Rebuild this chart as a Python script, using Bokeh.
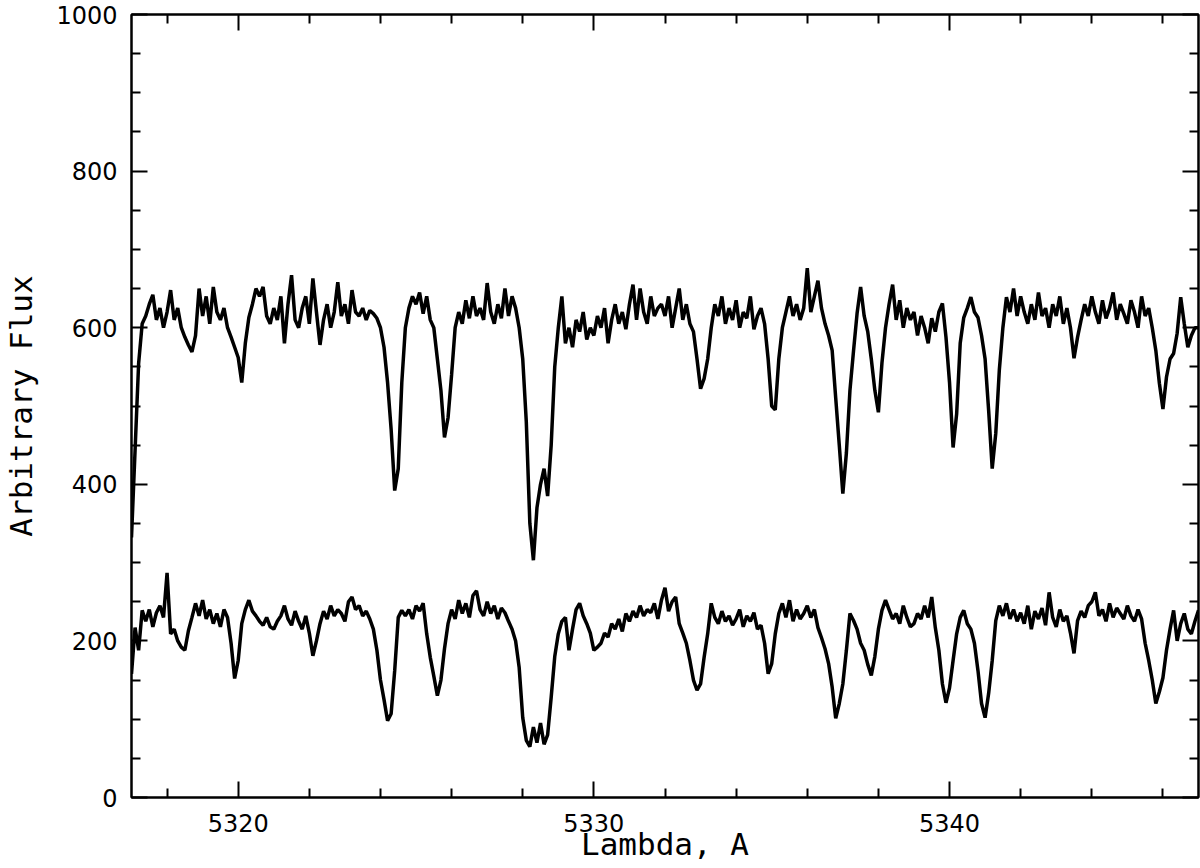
from bokeh.plotting import figure
from bokeh.models import LinearAxis, FixedTicker, CustomJSTickFormatter, Range1d
from bokeh.embed import file_html
from bokeh.resources import INLINE

# ---- data ----
LAM_START = 5317.0
LAM_STEP = 0.1

upper_flux = [
    332, 443, 554, 605, 615, 630, 642, 610, 625, 600,
    620, 648, 610, 625, 600, 588, 578, 569, 590, 650,
    615, 640, 605, 652, 620, 610, 625, 600, 588, 575,
    562, 530, 580, 613, 630, 650, 640, 652, 615, 605,
    625, 610, 640, 580, 630, 667, 610, 600, 625, 640,
    605, 663, 620, 578, 610, 630, 600, 620, 658, 615,
    630, 605, 648, 620, 615, 625, 610, 622, 618, 612,
    600, 575, 530, 470, 392, 420, 530, 600, 625, 640,
    630, 645, 618, 640, 610, 600, 560, 520, 460, 485,
    540, 600, 620, 605, 635, 612, 640, 615, 625, 610,
    657, 620, 605, 630, 612, 650, 615, 640, 625, 600,
    560, 480, 350, 303, 370, 400, 420, 385, 450, 550,
    600, 640, 580, 600, 575, 610, 595, 620, 585, 600,
    590, 615, 600, 625, 580, 610, 630, 605, 620, 598,
    630, 655, 610, 650, 620, 605, 640, 615, 625, 630,
    615, 640, 600, 625, 650, 610, 630, 605, 595, 560,
    522, 535, 560, 600, 630, 615, 640, 605, 625, 610,
    635, 600, 620, 612, 640, 598, 615, 625, 605, 560,
    500, 495, 560, 600, 620, 640, 615, 630, 610, 625,
    676, 620, 640, 660, 625, 605, 590, 571, 510, 450,
    388, 440, 520, 570, 618, 652, 615, 595, 560, 520,
    492, 555, 600, 630, 655, 610, 635, 600, 625, 610,
    620, 590, 615, 600, 580, 612, 595, 620, 631, 588,
    530, 447, 490, 580, 613, 625, 639, 620, 613, 590,
    560, 494, 420, 465, 546, 600, 639, 620, 650, 615,
    640, 620, 605, 630, 610, 645, 615, 625, 600, 630,
    615, 640, 605, 625, 600, 561, 588, 610, 630, 615,
    640, 620, 605, 635, 612, 625, 645, 610, 630, 618,
    605, 635, 620, 600, 640, 615, 625, 600, 571, 529,
    496, 537, 560, 567, 593, 639, 605, 575, 590, 600,
    600,
]

lower_flux = [
    158, 217, 188, 239, 225, 240, 218, 236, 245, 230,
    287, 209, 215, 200, 192, 188, 213, 230, 248, 232,
    252, 228, 240, 222, 235, 218, 240, 230, 197, 152,
    175, 222, 240, 252, 238, 232, 225, 220, 230, 218,
    215, 225, 232, 245, 228, 220, 238, 225, 215, 232,
    210, 181, 200, 222, 238, 228, 245, 232, 240, 235,
    225, 250, 256, 240, 245, 232, 238, 228, 215, 188,
    150, 125, 98, 107, 162, 230, 239, 232, 240, 228,
    245, 238, 248, 209, 179, 155, 130, 150, 190, 222,
    240, 228, 252, 235, 248, 230, 258, 264, 240, 232,
    250, 235, 245, 228, 242, 236, 225, 215, 200, 166,
    102, 73, 65, 90, 70, 95, 68, 80, 128, 180,
    209, 225, 230, 188, 215, 240, 248, 232, 222, 210,
    188, 192, 197, 210, 205, 222, 215, 228, 212, 235,
    225, 238, 230, 245, 232, 240, 236, 248, 228, 252,
    268, 238, 250, 256, 222, 210, 197, 175, 150, 137,
    145, 179, 209, 248, 230, 222, 238, 225, 232, 220,
    228, 240, 218, 232, 225, 236, 215, 220, 197, 158,
    171, 209, 235, 248, 230, 252, 225, 240, 228, 235,
    245, 230, 240, 217, 204, 190, 171, 141, 101, 120,
    145, 188, 235, 226, 215, 197, 188, 170, 156, 180,
    215, 239, 252, 240, 228, 235, 222, 245, 230, 218,
    222, 235, 228, 245, 230, 256, 217, 188, 145, 121,
    140, 175, 209, 230, 239, 222, 215, 197, 162, 120,
    102, 133, 175, 226, 245, 232, 248, 228, 240, 225,
    236, 222, 245, 215, 238, 228, 242, 220, 262, 230,
    218, 240, 225, 232, 210, 184, 226, 238, 230, 245,
    250, 262, 232, 240, 225, 248, 230, 242, 235, 228,
    245, 232, 225, 240, 228, 197, 175, 150, 120, 135,
    153, 188, 215, 239, 200, 222, 235, 215, 209, 225,
    239,
]

x_major_ticks = [5320, 5330, 5340]
x_minor_ticks = [5318, 5322, 5324, 5326, 5328, 5332, 5334, 5336, 5338, 5342, 5344, 5346]
y_major_ticks = [0, 200, 400, 600, 800, 1000]
y_minor_ticks = [50, 100, 150, 250, 300, 350, 450, 500, 550, 650, 700, 750, 850, 900, 950]

x_label = "Lambda, A"
y_label = "Arbitrary Flux"

wavelength = [round(LAM_START + i * LAM_STEP, 2) for i in range(len(upper_flux))]

# ---- figure ----
TICK_FONT = "DejaVu Sans"
LABEL_FONT = "DejaVu Sans Mono"

p = figure(frame_width=1067, frame_height=783, output_backend="svg", toolbar_location=None,
           x_range=Range1d(5317, 5347), y_range=Range1d(0, 1000),
           min_border_left=131, min_border_right=2, min_border_top=14,
           min_border_bottom=71)

p.background_fill_color = "white"
p.border_fill_color = "white"
p.outline_line_color = "black"
p.outline_line_width = 2
p.xgrid.visible = False
p.ygrid.visible = False

xt = FixedTicker(ticks=x_major_ticks, minor_ticks=x_minor_ticks)
yt = FixedTicker(ticks=y_major_ticks, minor_ticks=y_minor_ticks)

def style_axis(ax, ticker):
    ax.ticker = ticker
    ax.axis_line_color = "black"
    ax.axis_line_width = 2
    ax.major_tick_line_color = "black"
    ax.major_tick_line_width = 2
    ax.minor_tick_line_color = "black"
    ax.minor_tick_line_width = 2
    ax.major_tick_in = 16
    ax.major_tick_out = 0
    ax.minor_tick_in = 9
    ax.minor_tick_out = 0
    ax.major_label_text_color = "black"
    ax.major_label_text_font = TICK_FONT
    ax.major_label_text_font_size = "24px"
    ax.axis_label_text_color = "black"
    ax.axis_label_text_font = LABEL_FONT
    ax.axis_label_text_font_size = "31px"
    ax.axis_label_text_font_style = "normal"

xa = p.xaxis[0]
style_axis(xa, xt)
xa.axis_label = x_label
xa.major_label_standoff = 16
xa.axis_label_standoff = -9

ya = p.yaxis[0]
style_axis(ya, yt)
ya.axis_label = y_label
ya.major_label_standoff = 14
ya.axis_label_standoff = 14

blank = CustomJSTickFormatter(code="return '';")
top = LinearAxis()
style_axis(top, FixedTicker(ticks=x_major_ticks, minor_ticks=x_minor_ticks))
top.formatter = blank
top.major_label_text_font_size = "1px"
top.major_label_standoff = 0
p.add_layout(top, "above")

right = LinearAxis()
style_axis(right, FixedTicker(ticks=y_major_ticks, minor_ticks=y_minor_ticks))
right.formatter = blank
right.major_label_text_font_size = "1px"
right.major_label_standoff = 0
p.add_layout(right, "right")

p.line(wavelength, upper_flux, line_color="black", line_width=3.5)
p.line(wavelength, lower_flux, line_color="black", line_width=3.5)

open("out.html", "w").write(file_html(p, INLINE))
